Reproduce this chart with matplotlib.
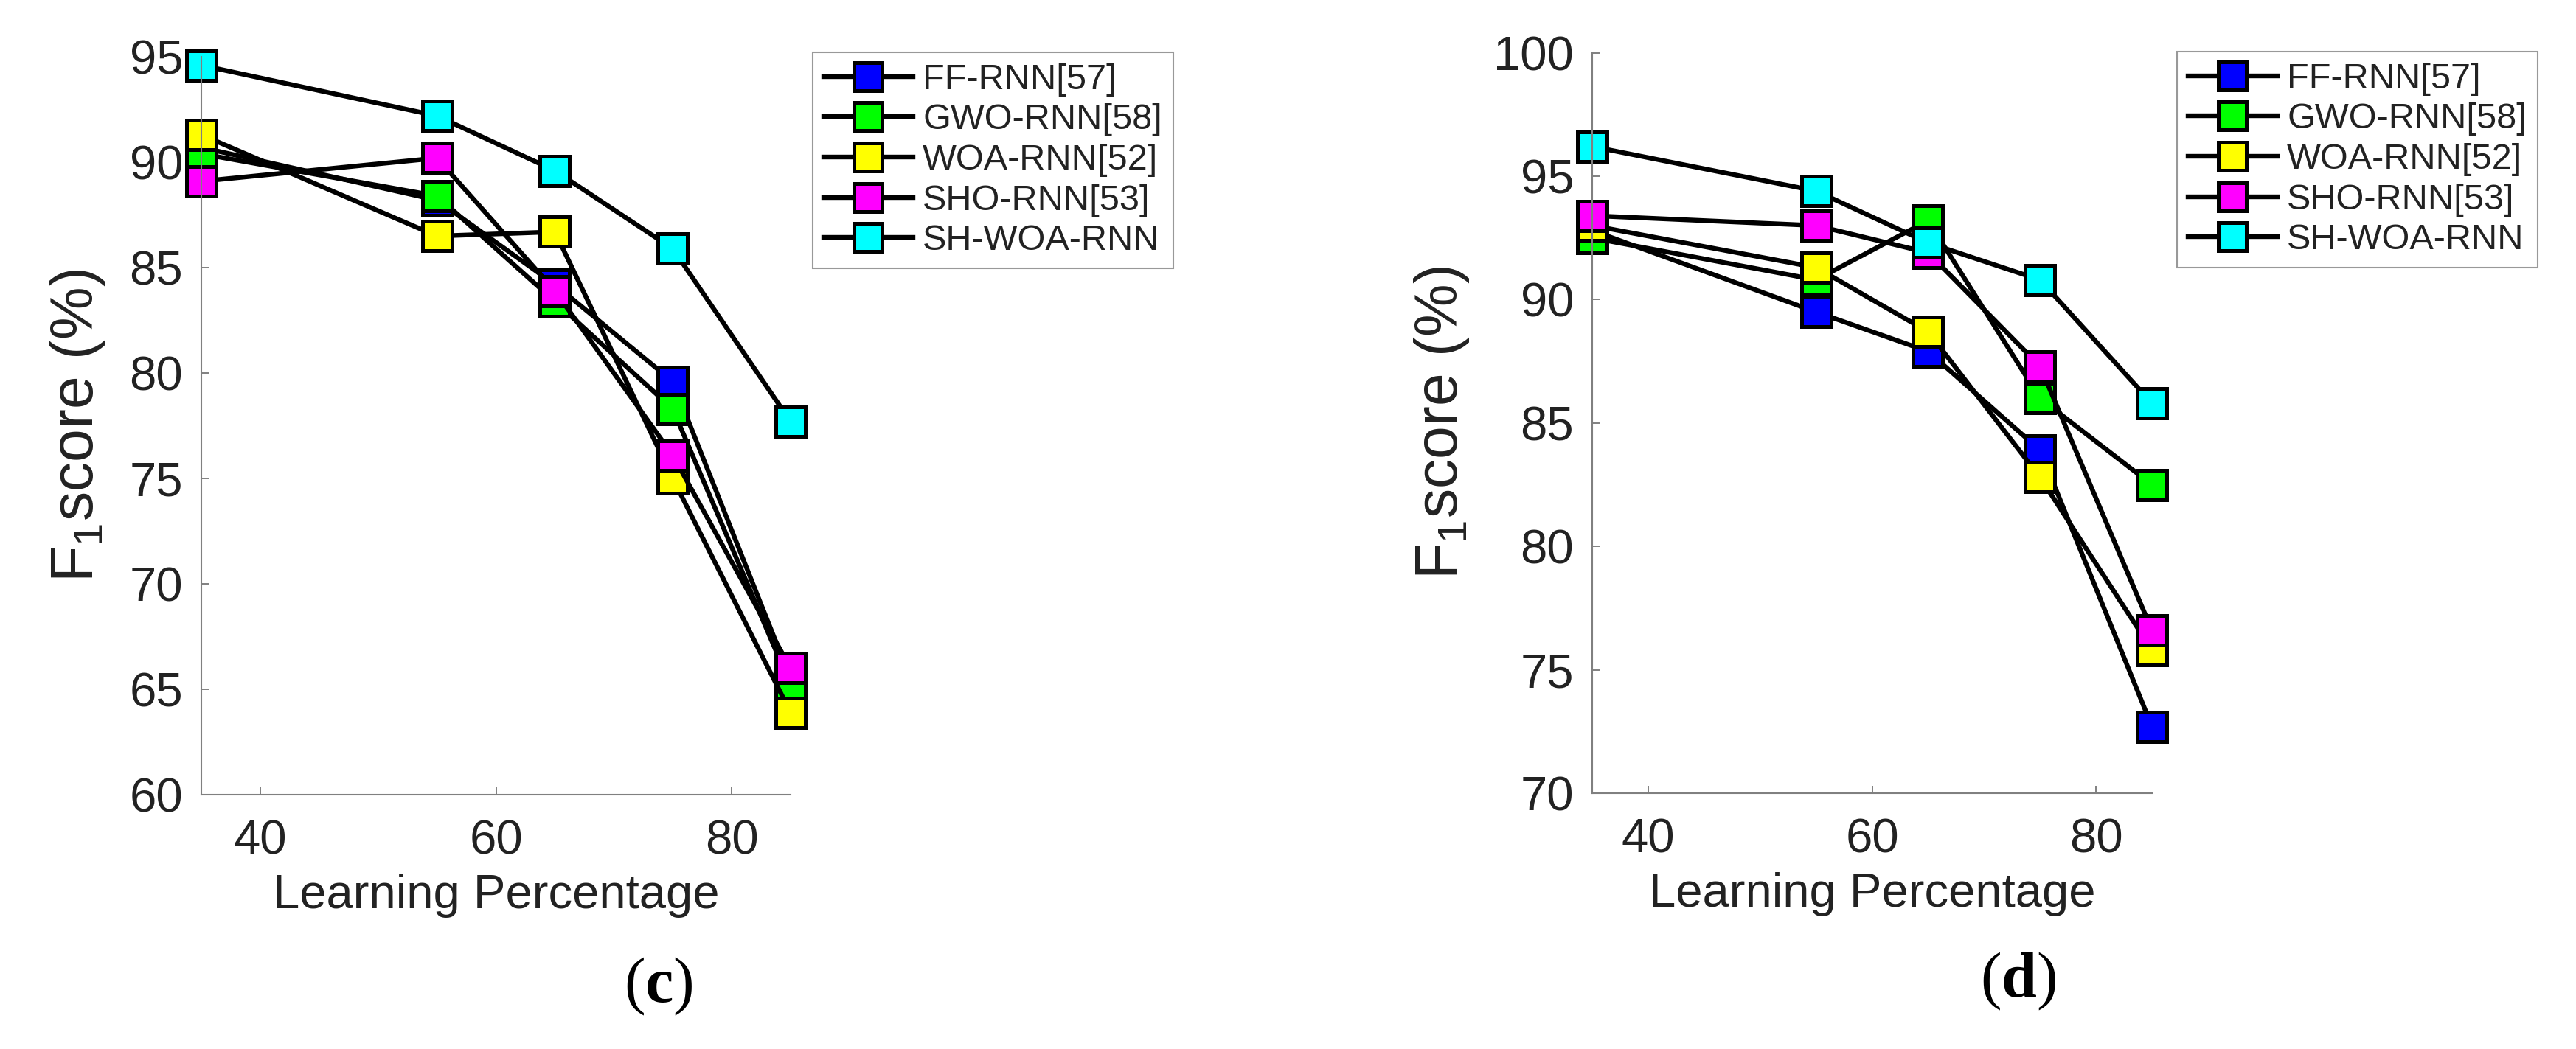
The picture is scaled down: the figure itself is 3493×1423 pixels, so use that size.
import matplotlib
matplotlib.use('Agg')
import matplotlib.pyplot as plt

# data
learning_pct = [35, 55, 65, 75, 85]
methods = ['FF-RNN[57]', 'GWO-RNN[58]', 'WOA-RNN[52]', 'SHO-RNN[53]', 'SH-WOA-RNN']
colors = ['#0000ff', '#00ff00', '#ffff00', '#ff00ff', '#00ffff']

# panel (c)
f1_c_ff = [90.7, 88.2, 84.2, 79.6, 65.5]
f1_c_gwo = [90.4, 88.4, 83.4, 78.3, 65.2]
f1_c_woa = [91.3, 86.5, 86.7, 75.0, 63.9]
f1_c_sho = [89.1, 90.2, 83.9, 76.1, 66.0]
f1_c_shwoa = [94.6, 92.2, 89.6, 85.9, 77.7]

# panel (d)
f1_d_ff = [92.8, 89.5, 87.9, 83.9, 72.7]
f1_d_gwo = [92.5, 90.8, 93.2, 86.0, 82.5]
f1_d_woa = [93.0, 91.3, 88.7, 82.8, 75.8]
f1_d_sho = [93.4, 93.0, 91.9, 87.3, 76.6]
f1_d_shwoa = [96.2, 94.4, 92.3, 90.8, 85.8]

yticks_c = [60, 65, 70, 75, 80, 85, 90, 95]
yticks_d = [70, 75, 80, 85, 90, 95, 100]
xticks = [40, 60, 80]

plt.rcParams['font.family'] = ['Liberation Sans', 'DejaVu Sans']
plt.rcParams['mathtext.fontset'] = 'custom'
plt.rcParams['mathtext.rm'] = 'Liberation Sans'
plt.rcParams['mathtext.bf'] = 'Liberation Serif:bold'

TEXT = '#222222'
GREY = '#808080'


def draw_panel(fig, rect, series, ylim, yticks, legend_anchor, tag, tag_pos):
    ax = fig.add_axes(rect)
    for values, name, col in zip(series, methods, colors):
        ax.plot(learning_pct, values, color='black', linewidth=4.6,
                marker='s', markersize=29, markerfacecolor=col,
                markeredgecolor='black', markeredgewidth=3.6,
                label=name, clip_on=False)
    ax.set_xlim(35, 85)
    ax.set_ylim(*ylim)
    ax.set_xticks(xticks)
    ax.set_yticks(yticks)
    for side in ['top', 'right']:
        ax.spines[side].set_visible(False)
    for side in ['left', 'bottom']:
        ax.spines[side].set_color(GREY)
        ax.spines[side].set_linewidth(1.5)
    ax.tick_params(direction='in', length=7, width=1.4, color=GREY,
                   labelsize=47, labelcolor=TEXT)
    ax.tick_params(axis='x', pad=24)
    ax.tick_params(axis='y', pad=18)
    ax.set_xlabel('Learning Percentage', fontsize=47, color=TEXT, labelpad=10)
    ax.set_ylabel(r'F$_{\mathrm{1}}$score (%)', fontsize=58, color=TEXT, labelpad=22)
    leg = ax.legend(loc='upper left', bbox_to_anchor=legend_anchor,
                    bbox_transform=fig.transFigure, borderaxespad=0,
                    fontsize=35, handlelength=2.5, handletextpad=0.27,
                    labelspacing=0.2, borderpad=0.3, fancybox=False,
                    edgecolor='#999999', framealpha=1)
    leg.get_frame().set_linewidth(1.5)
    for line in leg.get_lines():
        line.set_markersize(27)
    for t in leg.get_texts():
        t.set_color(TEXT)
    fig.text(tag_pos[0], tag_pos[1], '(' + r'$\mathbf{' + tag + '}$' + ')',
             family='Liberation Serif', fontsize=62, ha='center', va='center',
             color='black')
    return ax


fig = plt.figure(figsize=(34.93, 14.23), dpi=100)

draw_panel(fig, [0.0782, 0.2424, 0.2287, 0.7034],
           [f1_c_ff, f1_c_gwo, f1_c_woa, f1_c_sho, f1_c_shwoa],
           (60, 95), yticks_c, (0.3155, 0.9501), 'c', (0.2557, 0.0597))

draw_panel(fig, [0.6181, 0.2438, 0.2173, 0.7059],
           [f1_d_ff, f1_d_gwo, f1_d_woa, f1_d_sho, f1_d_shwoa],
           (70, 100), yticks_d, (0.8451, 0.9508), 'd', (0.7836, 0.064))

fig.savefig('out.png', dpi=100, facecolor='white')
